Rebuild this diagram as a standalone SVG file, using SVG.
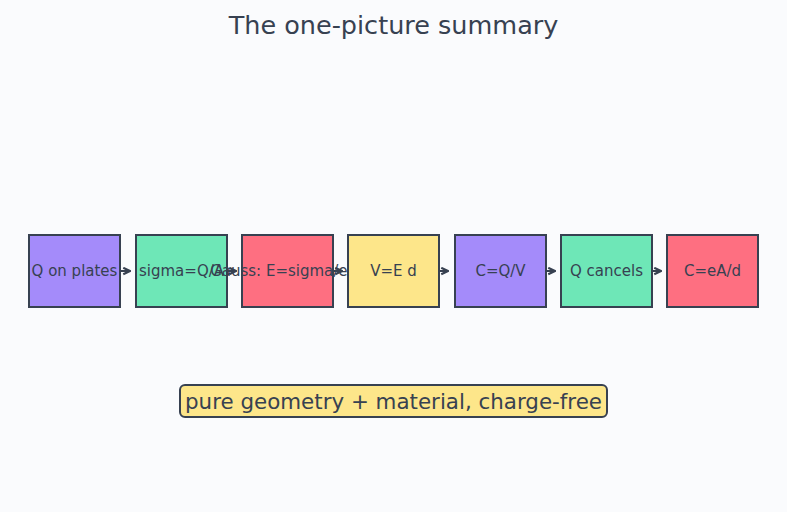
<svg xmlns="http://www.w3.org/2000/svg" width="787" height="512" viewBox="0 0 787 512">
<defs>
<style>
.box{stroke:#374151;stroke-width:2}
.t{font-family:"DejaVu Sans",sans-serif;font-size:15px;fill:#374151;text-anchor:middle;dominant-baseline:central}
.c{stroke:#374151;stroke-width:2;fill:none}
</style>
<marker id="ah" viewBox="0 0 10 10" refX="9" refY="5" markerWidth="9" markerHeight="9" markerUnits="userSpaceOnUse" orient="auto">
<path d="M1.5,1.5 L9,5 L1.5,8.5" fill="none" stroke="#374151" stroke-width="2.5"/>
</marker>
</defs>
<rect width="787" height="512" fill="#fafbfd"/>
<text x="393.5" y="25" font-family="DejaVu Sans,sans-serif" font-size="25.5" fill="#374151" text-anchor="middle" dominant-baseline="central">The one-picture summary</text>
<g id="connectors">
<line class="c" x1="121" y1="271" x2="130" y2="271" marker-end="url(#ah)"/>
<line class="c" x1="228" y1="271" x2="236" y2="271" marker-end="url(#ah)"/>
<line class="c" x1="334" y1="271" x2="342" y2="271" marker-end="url(#ah)"/>
<line class="c" x1="440" y1="271" x2="448" y2="271" marker-end="url(#ah)"/>
<line class="c" x1="547" y1="271" x2="555" y2="271" marker-end="url(#ah)"/>
<line class="c" x1="653" y1="271" x2="661" y2="271" marker-end="url(#ah)"/>
</g>
<g id="n1"><rect class="box" x="29" y="235" width="91" height="72" fill="#a48bfa"/><text class="t" x="74.5" y="271">Q on plates</text></g>
<g id="n2"><rect class="box" x="136" y="235" width="91" height="72" fill="#6ee7b7"/><text class="t" x="181.5" y="271">sigma=Q/A</text></g>
<g id="n3"><rect class="box" x="242" y="235" width="91" height="72" fill="#fe6f81"/><text class="t" x="287.5" y="271">Gauss: E=sigma/eps</text></g>
<g id="n4"><rect class="box" x="348" y="235" width="91" height="72" fill="#fde68a"/><text class="t" x="393.5" y="271">V=E d</text></g>
<g id="n5"><rect class="box" x="455" y="235" width="91" height="72" fill="#a48bfa"/><text class="t" x="500.5" y="271">C=Q/V</text></g>
<g id="n6"><rect class="box" x="561" y="235" width="91" height="72" fill="#6ee7b7"/><text class="t" x="606.5" y="271">Q cancels</text></g>
<g id="n7"><rect class="box" x="667" y="235" width="91" height="72" fill="#fe6f81"/><text class="t" x="712.5" y="271">C=eA/d</text></g>
<g id="note"><rect x="180" y="385" width="427" height="32" rx="5" fill="#fde68a" stroke="#374151" stroke-width="2"/><text x="393.5" y="401" font-family="DejaVu Sans,sans-serif" font-size="21.4" fill="#374151" text-anchor="middle" dominant-baseline="central">pure geometry + material, charge-free</text></g>
</svg>
